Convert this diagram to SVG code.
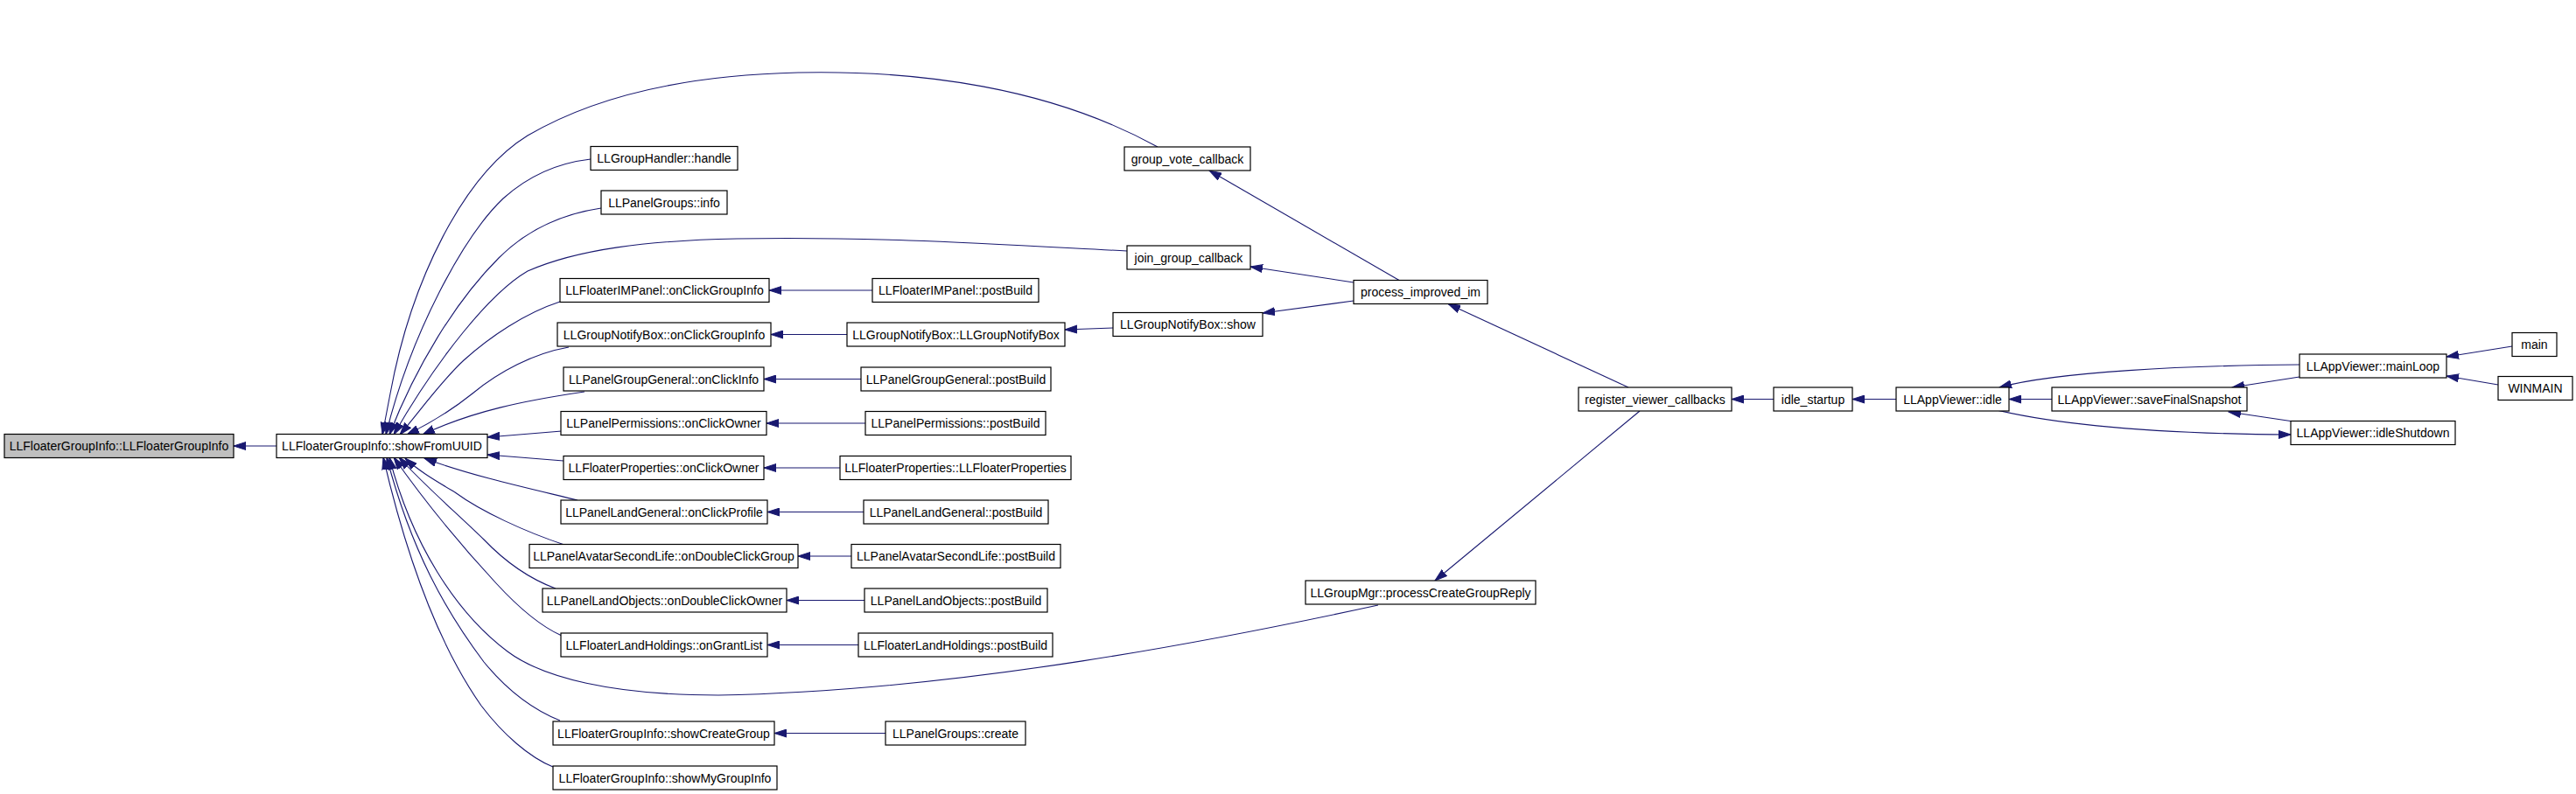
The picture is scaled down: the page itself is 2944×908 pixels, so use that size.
<svg xmlns="http://www.w3.org/2000/svg" width="2944" height="908" viewBox="0 0 2944 908">
<style>
.n rect{fill:#ffffff;stroke:#000000;stroke-width:1.2}
.root rect{fill:#bfbfbf}
.n text{font-family:"Liberation Sans",Arial,sans-serif;font-size:14px;fill:#000000;text-anchor:middle}
.e path{fill:none;stroke:#191970;stroke-width:1.1;marker-end:url(#ah)}
</style>
<defs>
<marker id="ah" markerUnits="userSpaceOnUse" viewBox="0 0 15 10" markerWidth="15" markerHeight="10" refX="14" refY="5" orient="auto">
<path d="M0,0.5 L14,5 L0,9.5 z" fill="#191970" stroke="#191970" stroke-width="1"/>
</marker>
</defs>
<rect width="2944" height="908" fill="#ffffff"/>
<g id="connectors" class="e">
<path d="M316,510 L267,510"/>
<path d="M1323,168 C1200,100 1050,80 912,83 C780,86 680,110 603,155 C530,200 470,320 446,450 L437,497"/>
<path d="M675,182 C640,186 605,200 575,227 C530,270 470,380 441,497"/>
<path d="M687,238 C640,245 600,265 570,295 C520,345 475,420 445,497"/>
<path d="M1288,287 C1150,280 1000,270 842,273 C740,275 660,285 603,310 C560,335 500,410 450,497"/>
<path d="M640,345 C600,358 560,385 530,412 C505,435 480,470 457,497"/>
<path d="M650,397 C610,404 570,425 540,450 C515,470 490,485 465,497"/>
<path d="M668,448 C600,458 540,470 483,497"/>
<path d="M642,493 L557,500"/>
<path d="M644,527 L557,520"/>
<path d="M660,572 C620,562 540,545 485,524"/>
<path d="M645,623 C600,608 550,585 520,563 C495,548 478,538 463,524"/>
<path d="M635,673 C600,660 575,640 553,617 C520,585 485,555 456,523"/>
<path d="M642,727 C615,715 590,692 567,667 C530,627 490,580 450,523"/>
<path d="M1575,692 C1400,730 1100,790 821,795 C700,795 620,775 580,745 C520,700 470,620 445,523"/>
<path d="M640,824 C610,812 580,790 553,757 C510,700 470,630 442,523"/>
<path d="M632,877 C605,866 575,840 550,807 C510,750 470,660 438,523"/>
<path d="M997,332 L879,332"/>
<path d="M968,382.5 L881,382.5"/>
<path d="M984,433.5 L873,433.5"/>
<path d="M989,484 L876,484"/>
<path d="M960,535 L873,535"/>
<path d="M987,585.5 L877,585.5"/>
<path d="M973,636 L912,636"/>
<path d="M988,686.5 L899,686.5"/>
<path d="M981,737.5 L877,737.5"/>
<path d="M1012,838.5 L885,838.5"/>
<path d="M1272,375 L1217,377"/>
<path d="M1599,320.5 L1382,195"/>
<path d="M1547,323 L1429,305"/>
<path d="M1547,344 L1443,358"/>
<path d="M1861,443 L1655,347.5"/>
<path d="M1874,470 L1640,664"/>
<path d="M2027,456.5 L1979,456.5"/>
<path d="M2167,456.5 L2117,456.5"/>
<path d="M2345,456.5 L2296,456.5"/>
<path d="M2628,417 C2500,418 2350,425 2285,443"/>
<path d="M2282,469 C2350,485 2450,496 2618,497"/>
<path d="M2628,431 L2551,443"/>
<path d="M2621,482 L2547,471"/>
<path d="M2871,396 L2796,408"/>
<path d="M2855,440 L2796,430"/>
</g>
<g id="n_root" class="n root"><rect x="5" y="496.5" width="262" height="27"/><text x="136" y="515">LLFloaterGroupInfo::LLFloaterGroupInfo</text></g>
<g id="n_showFromUUID" class="n"><rect x="316" y="496.5" width="241" height="27"/><text x="436.5" y="515">LLFloaterGroupInfo::showFromUUID</text></g>
<g id="n_handle" class="n"><rect x="675" y="167.5" width="168" height="27"/><text x="759" y="186">LLGroupHandler::handle</text></g>
<g id="n_info" class="n"><rect x="687" y="218" width="144" height="27"/><text x="759" y="236.5">LLPanelGroups::info</text></g>
<g id="n_imOnClick" class="n"><rect x="640" y="318.5" width="239" height="27"/><text x="759.5" y="337">LLFloaterIMPanel::onClickGroupInfo</text></g>
<g id="n_notifyOnClick" class="n"><rect x="637" y="369" width="244" height="27"/><text x="759" y="387.5">LLGroupNotifyBox::onClickGroupInfo</text></g>
<g id="n_ggOnClick" class="n"><rect x="644" y="420" width="229" height="27"/><text x="758.5" y="438.5">LLPanelGroupGeneral::onClickInfo</text></g>
<g id="n_permOnClick" class="n"><rect x="641" y="470.5" width="235" height="27"/><text x="758.5" y="489">LLPanelPermissions::onClickOwner</text></g>
<g id="n_propOnClick" class="n"><rect x="644" y="521.5" width="229" height="27"/><text x="758.5" y="540">LLFloaterProperties::onClickOwner</text></g>
<g id="n_lgOnClick" class="n"><rect x="641" y="572" width="236" height="27"/><text x="759" y="590.5">LLPanelLandGeneral::onClickProfile</text></g>
<g id="n_avOnDbl" class="n"><rect x="605" y="622.5" width="307" height="27"/><text x="758.5" y="641">LLPanelAvatarSecondLife::onDoubleClickGroup</text></g>
<g id="n_loOnDbl" class="n"><rect x="620" y="673" width="279" height="27"/><text x="759.5" y="691.5">LLPanelLandObjects::onDoubleClickOwner</text></g>
<g id="n_lhOnGrant" class="n"><rect x="641" y="724" width="236" height="27"/><text x="759" y="742.5">LLFloaterLandHoldings::onGrantList</text></g>
<g id="n_showCreate" class="n"><rect x="632" y="825" width="253" height="27"/><text x="758.5" y="843.5">LLFloaterGroupInfo::showCreateGroup</text></g>
<g id="n_showMy" class="n"><rect x="632" y="876" width="256" height="27"/><text x="760" y="894.5">LLFloaterGroupInfo::showMyGroupInfo</text></g>
<g id="n_imPost" class="n"><rect x="997" y="318.5" width="190" height="27"/><text x="1092" y="337">LLFloaterIMPanel::postBuild</text></g>
<g id="n_notifyCtor" class="n"><rect x="968" y="369" width="249" height="27"/><text x="1092.5" y="387.5">LLGroupNotifyBox::LLGroupNotifyBox</text></g>
<g id="n_ggPost" class="n"><rect x="984" y="420" width="217" height="27"/><text x="1092.5" y="438.5">LLPanelGroupGeneral::postBuild</text></g>
<g id="n_permPost" class="n"><rect x="989" y="470.5" width="206" height="27"/><text x="1092" y="489">LLPanelPermissions::postBuild</text></g>
<g id="n_propCtor" class="n"><rect x="960" y="521.5" width="264" height="27"/><text x="1092" y="540">LLFloaterProperties::LLFloaterProperties</text></g>
<g id="n_lgPost" class="n"><rect x="987" y="572" width="211" height="27"/><text x="1092.5" y="590.5">LLPanelLandGeneral::postBuild</text></g>
<g id="n_avPost" class="n"><rect x="973" y="622.5" width="239" height="27"/><text x="1092.5" y="641">LLPanelAvatarSecondLife::postBuild</text></g>
<g id="n_loPost" class="n"><rect x="988" y="673" width="209" height="27"/><text x="1092.5" y="691.5">LLPanelLandObjects::postBuild</text></g>
<g id="n_lhPost" class="n"><rect x="981" y="724" width="222" height="27"/><text x="1092" y="742.5">LLFloaterLandHoldings::postBuild</text></g>
<g id="n_pgCreate" class="n"><rect x="1012" y="825" width="160" height="27"/><text x="1092" y="843.5">LLPanelGroups::create</text></g>
<g id="n_groupVote" class="n"><rect x="1285" y="168" width="144" height="27"/><text x="1357" y="186.5">group_vote_callback</text></g>
<g id="n_joinGroup" class="n"><rect x="1288" y="281" width="141" height="27"/><text x="1358.5" y="299.5">join_group_callback</text></g>
<g id="n_notifyShow" class="n"><rect x="1272" y="357.5" width="171" height="27"/><text x="1357.5" y="376">LLGroupNotifyBox::show</text></g>
<g id="n_groupMgr" class="n"><rect x="1492" y="664" width="263" height="27"/><text x="1623.5" y="682.5">LLGroupMgr::processCreateGroupReply</text></g>
<g id="n_processIM" class="n"><rect x="1547" y="320.5" width="153" height="27"/><text x="1623.5" y="339">process_improved_im</text></g>
<g id="n_register" class="n"><rect x="1804" y="443" width="175" height="27"/><text x="1891.5" y="461.5">register_viewer_callbacks</text></g>
<g id="n_idleStartup" class="n"><rect x="2027" y="443" width="90" height="27"/><text x="2072" y="461.5">idle_startup</text></g>
<g id="n_idle" class="n"><rect x="2167" y="443" width="129" height="27"/><text x="2231.5" y="461.5">LLAppViewer::idle</text></g>
<g id="n_saveSnap" class="n"><rect x="2345" y="443" width="223" height="27"/><text x="2456.5" y="461.5">LLAppViewer::saveFinalSnapshot</text></g>
<g id="n_mainLoop" class="n"><rect x="2628" y="405" width="168" height="27"/><text x="2712" y="423.5">LLAppViewer::mainLoop</text></g>
<g id="n_idleShutdown" class="n"><rect x="2618" y="481.5" width="188" height="27"/><text x="2712" y="500">LLAppViewer::idleShutdown</text></g>
<g id="n_main" class="n"><rect x="2871" y="380.5" width="51" height="27"/><text x="2896.5" y="399">main</text></g>
<g id="n_winmain" class="n"><rect x="2855" y="430.5" width="85" height="27"/><text x="2897.5" y="449">WINMAIN</text></g>
</svg>
